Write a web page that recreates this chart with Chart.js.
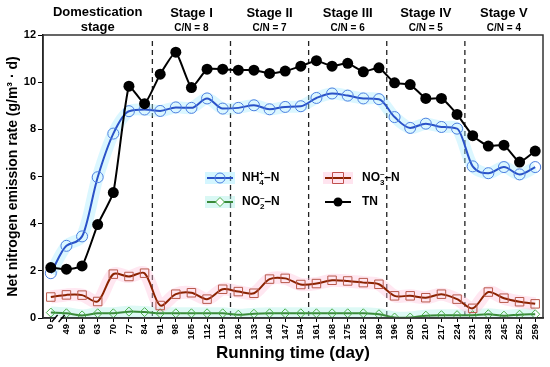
<!DOCTYPE html>
<html>
<head>
<meta charset="utf-8">
<script src="https://cdn.jsdelivr.net/npm/chart.js@4.4.0/dist/chart.umd.min.js"></script>
<style>
  html, body { margin: 0; padding: 0; background: #fff; }
  #wrap { width: 550px; height: 367px; }
</style>
</head>
<body>
<div id="wrap"><canvas id="nChart" width="550" height="367"></canvas></div>
<script>
// running time (day) - axis is broken between 0 and 49
const days = ["0", "49", "56", "63", "70", "77", "84", "91", "98", "105", "112", "119", "126", "133", "140", "147",
              "154", "161", "168", "175", "182", "189", "196", "203", "210", "217", "224", "231", "238", "245", "252", "259"];

const nh4 = [1.9, 3.06, 3.46, 5.97, 7.82, 8.77, 8.84, 8.78, 8.93, 8.91, 9.31, 8.88, 8.91, 9.02, 8.85, 8.95,
             8.98, 9.33, 9.52, 9.43, 9.31, 9.28, 8.52, 8.06, 8.24, 8.1, 8.03, 6.43, 6.14, 6.4, 6.09, 6.4];
const no3 = [0.89, 0.98, 0.97, 0.7, 1.86, 1.76, 1.9, 0.53, 1.01, 1.07, 0.8, 1.22, 1.12, 1.05, 1.65, 1.68,
             1.42, 1.46, 1.6, 1.57, 1.5, 1.43, 0.94, 0.94, 0.86, 1.01, 0.8, 0.41, 1.1, 0.84, 0.69, 0.6];
const no2 = [0.23, 0.2, 0.11, 0.2, 0.2, 0.27, 0.25, 0.2, 0.2, 0.2, 0.2, 0.2, 0.14, 0.18, 0.2, 0.2,
             0.2, 0.2, 0.2, 0.2, 0.2, 0.16, 0.02, 0.02, 0.1, 0.12, 0.12, 0.12, 0.16, 0.1, 0.14, 0.16];
const tn  = [2.14, 2.07, 2.21, 3.96, 5.32, 9.83, 9.09, 10.34, 11.27, 9.77, 10.55, 10.55, 10.51, 10.51, 10.37, 10.47,
             10.68, 10.91, 10.68, 10.8, 10.44, 10.61, 9.97, 9.9, 9.31, 9.31, 8.63, 7.73, 7.29, 7.33, 6.61, 7.08];

const yTicks = [0, 2, 4, 6, 8, 10, 12];

// stage boundaries: dashed line after these category indices
const stageBreaks = [6, 11, 16, 21, 26];
const stageNames = ["Stage I", "Stage II", "Stage III", "Stage IV", "Stage V"];
const stageCN = ["C/N = 8", "C/N = 7", "C/N = 6", "C/N = 5", "C/N = 4"];

const FONT = "'Liberation Sans', Arial, sans-serif";

function bandSet(data, color, width, order) {
  return {
    data: data, borderColor: color, borderWidth: width, pointRadius: 0,
    tension: 0.3, fill: false, order: order, borderCapStyle: "butt"
  };
}

// draws e.g. NH4+-N with stacked sub/superscript
function chemLabel(ctx, x, y, base, sub, sup, tail) {
  ctx.font = "bold 12px " + FONT;
  ctx.fillText(base, x, y);
  x += ctx.measureText(base).width;
  ctx.font = "bold 8px " + FONT;
  ctx.fillText(sub, x, y + 5);
  ctx.fillText(sup, x, y - 4);
  x += Math.max(ctx.measureText(sub).width, ctx.measureText(sup).width);
  ctx.font = "bold 12px " + FONT;
  ctx.fillText(tail, x, y);
}

const decorPlugin = {
  id: "decor",
  beforeDatasetsDraw(chart) {
    const { ctx, chartArea, scales } = chart;
    const xs = scales.x;
    ctx.save();
    ctx.strokeStyle = "#222";
    ctx.lineWidth = 1.3;
    ctx.setLineDash([5, 4]);
    stageBreaks.forEach(i => {
      const x = (xs.getPixelForValue(i) + xs.getPixelForValue(i + 1)) / 2;
      ctx.beginPath();
      ctx.moveTo(x, chartArea.top + 6);
      ctx.lineTo(x, chartArea.bottom);
      ctx.stroke();
    });
    ctx.restore();
  },
  afterDraw(chart) {
    const { ctx, chartArea, scales } = chart;
    const xs = scales.x;
    ctx.save();
    // frame
    ctx.strokeStyle = "#333";
    ctx.lineWidth = 1.5;
    ctx.strokeRect(chartArea.left, chartArea.top, chartArea.right - chartArea.left, chartArea.bottom - chartArea.top);

    // axis break marks
    const bx = (xs.getPixelForValue(0) + xs.getPixelForValue(1)) / 2;
    const by = chartArea.bottom;
    ctx.fillStyle = "#fff";
    ctx.fillRect(bx - 3, by - 2, 5, 4);
    ctx.strokeStyle = "#000";
    ctx.lineWidth = 1.3;
    [-4, 3].forEach(dx => {
      ctx.beginPath();
      ctx.moveTo(bx + dx - 3, by + 4);
      ctx.lineTo(bx + dx + 3, by - 3);
      ctx.stroke();
    });

    // stage headers
    ctx.fillStyle = "#000";
    ctx.textAlign = "center";
    ctx.textBaseline = "middle";
    const firstX = (chartArea.left + (xs.getPixelForValue(6) + xs.getPixelForValue(7)) / 2) / 2;
    ctx.font = "bold 13px " + FONT;
    ctx.fillText("Domestication", firstX, 12);
    ctx.fillText("stage", firstX, 27);
    const edges = stageBreaks.map(i => (xs.getPixelForValue(i) + xs.getPixelForValue(i + 1)) / 2);
    edges.push(chartArea.right);
    for (let s = 0; s < stageNames.length; s++) {
      const cx = (edges[s] + edges[s + 1]) / 2;
      ctx.font = "bold 13px " + FONT;
      ctx.fillText(stageNames[s], cx, 13);
      ctx.font = "bold 10px " + FONT;
      ctx.fillText(stageCN[s], cx, 28);
    }

    // legend
    ctx.textAlign = "left";
    const rows = [
      { x: 207, y: 178, color: "#2a52c8", mk: "#4d7fe0", band: "rgba(160,235,255,0.45)", type: "circle" },
      { x: 325, y: 178, color: "#8b2200", mk: "#c0504d", band: "rgba(255,195,220,0.45)", type: "rect" },
      { x: 207, y: 202, color: "#3a8a3a", mk: "#4cae4c", band: "rgba(170,240,230,0.45)", type: "diamond" },
      { x: 325, y: 202, color: "#000", mk: "#000", band: null, type: "dot" }
    ];
    rows.forEach(r => {
      if (r.band) {
        ctx.fillStyle = r.band;
        ctx.fillRect(r.x - 2, r.y - 6, 30, 12);
      }
      ctx.strokeStyle = r.color;
      ctx.lineWidth = 2;
      ctx.beginPath();
      ctx.moveTo(r.x, r.y);
      ctx.lineTo(r.x + 26, r.y);
      ctx.stroke();
      const mx = r.x + 13;
      ctx.lineWidth = 1;
      ctx.strokeStyle = r.mk;
      ctx.beginPath();
      if (r.type === "circle") {
        ctx.arc(mx, r.y, 5, 0, Math.PI * 2);
        ctx.stroke();
      } else if (r.type === "rect") {
        ctx.rect(mx - 5.5, r.y - 5.5, 11, 11);
        ctx.stroke();
      } else if (r.type === "diamond") {
        ctx.moveTo(mx, r.y - 4.5); ctx.lineTo(mx + 4.5, r.y); ctx.lineTo(mx, r.y + 4.5); ctx.lineTo(mx - 4.5, r.y); ctx.closePath();
        ctx.fillStyle = "#fff"; ctx.fill(); ctx.stroke();
      } else {
        ctx.arc(mx, r.y, 4.5, 0, Math.PI * 2);
        ctx.fillStyle = "#000"; ctx.fill();
      }
    });
    ctx.fillStyle = "#000";
    ctx.textBaseline = "middle";
    chemLabel(ctx, 242, 178, "NH", "4", "+", "–N");
    chemLabel(ctx, 362, 178, "NO", "3", "–", "–N");
    chemLabel(ctx, 242, 202, "NO", "2", "–", "–N");
    ctx.font = "bold 12px " + FONT;
    ctx.fillText("TN", 362, 202);
    ctx.restore();
  }
};

const ctx = document.getElementById("nChart").getContext("2d");

new Chart(ctx, {
  type: "line",
  data: {
    labels: days,
    datasets: [
      bandSet(nh4, "rgba(160,235,255,0.38)", 12, 10),
      bandSet(no3, "rgba(255,195,220,0.4)", 13, 11),
      bandSet(no2, "rgba(170,240,230,0.4)", 12, 12),
      {
        label: "NO2-N", data: no2, order: 4,
        borderColor: "#3a8a3a", borderWidth: 2, tension: 0.3,
        pointStyle: "rectRot", pointRadius: 4.5, pointBorderWidth: 1,
        pointBorderColor: "#4cae4c", pointBackgroundColor: "rgba(255,255,255,0)"
      },
      {
        label: "NO3-N", data: no3, order: 3,
        borderColor: "#8b2200", borderWidth: 2, tension: 0.3,
        pointStyle: "rect", pointRadius: 6, pointBorderWidth: 1,
        pointBorderColor: "#b8584a", pointBackgroundColor: "rgba(255,255,255,0)"
      },
      {
        label: "NH4-N", data: nh4, order: 2,
        borderColor: "#2a52c8", borderWidth: 2, cubicInterpolationMode: "monotone",
        pointStyle: "circle", pointRadius: 5.5, pointBorderWidth: 1,
        pointBorderColor: "#4d7fe0", pointBackgroundColor: "rgba(255,255,255,0)"
      },
      {
        label: "TN", data: tn, order: 1,
        borderColor: "#000", borderWidth: 2, tension: 0.15,
        pointStyle: "circle", pointRadius: 5.5, pointBorderWidth: 0,
        pointBackgroundColor: "#000"
      }
    ]
  },
  options: {
    responsive: false,
    animation: false,
    layout: { padding: { top: 35, right: 6, left: 0, bottom: 0 } },
    plugins: { legend: { display: false }, tooltip: { enabled: false } },
    scales: {
      x: {
        type: "category",
        offset: true,
        grid: { display: true, drawOnChartArea: false, drawTicks: true, tickLength: 4, color: "#000", offset: false },
        border: { display: true, color: "#000", width: 1.5 },
        ticks: {
          autoSkip: false, minRotation: 90, maxRotation: 90, padding: 2,
          color: "#000", font: { family: FONT, size: 9.5, weight: "bold" }
        },
        title: {
          display: true, text: "Running time (day)", color: "#000",
          font: { family: FONT, size: 17, weight: "bold" }, padding: { top: 0, bottom: 3 }
        },
        afterFit(scale) { scale.height = 49; }
      },
      y: {
        min: 0, max: 12,
        afterBuildTicks(scale) { scale.ticks = yTicks.map(v => ({ value: v })); },
        grid: { display: true, drawOnChartArea: false, drawTicks: true, tickLength: 5, color: "#000" },
        border: { display: true, color: "#000", width: 1.5 },
        ticks: { color: "#000", padding: 2, font: { family: FONT, size: 11, weight: "bold" } },
        title: {
          display: true, text: "Net nitrogen emission rate (g/m³ · d)", color: "#000",
          font: { family: FONT, size: 14, weight: "bold" }, padding: { top: 5, bottom: 2 }
        },
        afterFit(scale) { scale.width = 43; }
      }
    }
  },
  plugins: [decorPlugin]
});
</script>
</body>
</html>
